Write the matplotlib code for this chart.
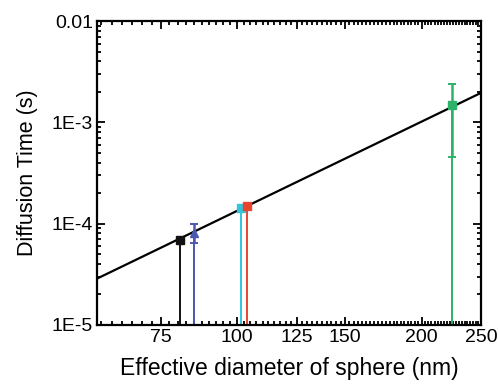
import matplotlib
matplotlib.use("Agg")
import matplotlib.pyplot as plt
from matplotlib.ticker import FixedLocator, FixedFormatter, MultipleLocator, LogLocator, NullFormatter

plt.rcParams['font.family'] = ['Liberation Sans', 'DejaVu Sans']

# measured points (effective diameter nm, diffusion time s)
diam = [80.8, 85.0, 101.3, 103.9, 223.9]
tdiff = [6.95e-5, 8.15e-5, 1.43e-4, 1.48e-4, 1.47e-3]
err_lo = [0, 1.65e-5, 0, 0, 1.015e-3]
err_hi = [0, 1.85e-5, 0, 0, 0.9e-3]
colors = ['#111111', '#4a58b0', '#35c3d8', '#e8452e', '#2eb26a']
markers = ['s', '^', 's', 's', 's']

# fitted power law line endpoints
fit_x = [59.1, 250]
fit_y = [2.87e-5, 1.96e-3]

xticks = [75, 100, 125, 150, 200, 250]
yticks = [1e-5, 1e-4, 1e-3, 1e-2]
ytick_labels = ['1E-5', '1E-4', '1E-3', '0.01']

fig = plt.figure(figsize=(4.98, 3.85), dpi=100)
ax = fig.add_axes([0.195, 0.156, 0.771, 0.789])
ax.set_xscale('log')
ax.set_yscale('log')
ax.set_xlim(59.1, 250)
ax.set_ylim(1e-5, 1e-2)

ax.plot(fit_x, fit_y, color='black', lw=1.6, zorder=3)

for x, y, lo, hi, c, m in zip(diam, tdiff, err_lo, err_hi, colors, markers):
    ax.vlines(x, 1e-5, y, color=c, lw=1.4, zorder=2)
    if lo > 0:
        ax.errorbar([x], [y], yerr=[[lo], [hi]], fmt='none', ecolor=c,
                    elinewidth=1.8, capsize=3, capthick=1.4, zorder=4)
    ax.plot([x], [y], marker=m, color=c, ms=6, ls='none', zorder=5)

ax.xaxis.set_major_locator(FixedLocator(xticks))
ax.xaxis.set_major_formatter(FixedFormatter([str(t) for t in xticks]))
ax.xaxis.set_minor_locator(MultipleLocator(2.5))
ax.xaxis.set_minor_formatter(NullFormatter())
ax.yaxis.set_major_locator(FixedLocator(yticks))
ax.yaxis.set_major_formatter(FixedFormatter(ytick_labels))
ax.yaxis.set_minor_locator(LogLocator(base=10, subs=range(2, 10)))
ax.yaxis.set_minor_formatter(NullFormatter())

ax.tick_params(which='both', direction='in', top=True, right=True, width=1.3)
ax.tick_params(which='major', length=6, labelsize=14, pad=3)
ax.tick_params(which='minor', length=3)
for s in ax.spines.values():
    s.set_linewidth(1.6)

ax.set_xlabel('Effective diameter of sphere (nm)', fontsize=16.5, labelpad=8)
ax.set_ylabel('Diffusion Time (s)', fontsize=15.5, labelpad=10)

fig.savefig('out.png', dpi=100)
